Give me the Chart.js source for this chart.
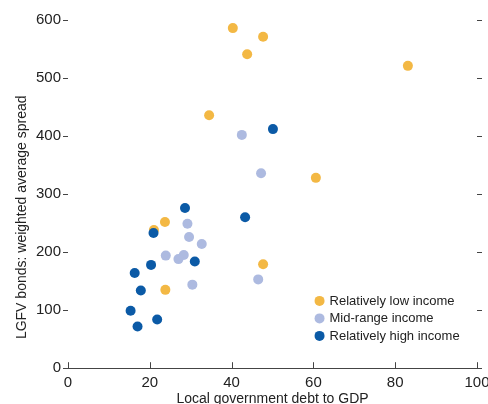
<!DOCTYPE html>
<html>
<head>
<meta charset="utf-8">
<script src="https://cdn.jsdelivr.net/npm/chart.js@4/dist/chart.umd.min.js"></script>
<style>
  html, body { margin: 0; padding: 0; background: #fff; overflow: hidden; }
  #wrap { width: 488px; height: 408px; position: relative; }
</style>
</head>
<body>
<div id="wrap"><canvas id="chart"></canvas></div>
<script>
// Series data: [debt to GDP, spread]
const lowIncome = [
    [40.3, 586], [47.7, 571], [43.8, 541], [83.1, 521], [34.5, 436],
    [60.6, 328], [23.7, 252], [21.0, 238], [47.7, 179], [23.8, 135],
];
const midIncome = [
    [42.5, 402], [47.2, 336], [29.2, 249], [29.6, 226], [32.7, 214],
    [23.9, 194], [28.3, 195], [27.0, 188], [30.4, 144], [46.5, 153],
];
const highIncome = [
    [50.1, 412], [43.3, 260], [28.6, 276], [20.9, 233], [20.3, 178],
    [16.3, 164], [17.8, 134], [31.0, 184], [15.3, 99], [17.0, 72], [21.8, 84],
];
const seriesNames = ['Relatively low income', 'Mid-range income', 'Relatively high income'];
const seriesColors = ['#F3B844', '#ADBAE0', '#0B5AA6'];
const xTicks = [0, 20, 40, 60, 80, 100];
const yTicks = [0, 100, 200, 300, 400, 500, 600];
const yTitle = 'LGFV bonds: weighted average spread';

const FONT = "'Liberation Sans Narrow', 'Arial Narrow', 'Liberation Sans', sans-serif";
const toPoints = (arr) => arr.map(([x, y]) => ({ x, y }));

// inward tick marks on the x axis
const xTickMarks = {
    id: 'xTickMarks',
    afterDraw(chart) {
        const { ctx, scales: { x }, chartArea } = chart;
        ctx.save();
        ctx.strokeStyle = '#444';
        ctx.lineWidth = 1;
        xTicks.forEach((v) => {
            const px = Math.round(x.getPixelForValue(v)) + 0.5;
            ctx.beginPath();
            ctx.moveTo(px, chartArea.bottom);
            ctx.lineTo(px, chartArea.bottom - 6);
            ctx.stroke();
        });
        ctx.restore();
    },
};

// y axis title, sitting a bit below the middle of the axis
const yTitlePlugin = {
    id: 'yTitlePlugin',
    afterDraw(chart) {
        const { ctx, scales: { y } } = chart;
        ctx.save();
        ctx.translate(22, y.getPixelForValue(260));
        ctx.rotate(-Math.PI / 2);
        ctx.font = '14px ' + FONT;
        ctx.fillStyle = '#222';
        ctx.textAlign = 'center';
        ctx.textBaseline = 'middle';
        ctx.fillText(yTitle, 0, 0);
        ctx.restore();
    },
};

// legend inside the plot, bottom right
const insideLegend = {
    id: 'insideLegend',
    afterDraw(chart) {
        const { ctx, scales: { x, y } } = chart;
        const left = x.getPixelForValue(61.5);
        const top = y.getPixelForValue(116);
        ctx.save();
        ctx.font = '13px ' + FONT;
        ctx.textBaseline = 'middle';
        seriesNames.forEach((name, i) => {
            const cy = top + i * 17.5;
            ctx.fillStyle = seriesColors[i];
            ctx.beginPath();
            ctx.arc(left, cy, 5, 0, Math.PI * 2);
            ctx.fill();
            ctx.fillStyle = '#222';
            ctx.fillText(name, left + 10, cy + 0.5);
        });
        ctx.restore();
    },
};

const ctx = document.getElementById('chart').getContext('2d');
new Chart(ctx, {
    type: 'scatter',
    data: {
        datasets: [
            { label: seriesNames[0], data: toPoints(lowIncome), backgroundColor: seriesColors[0], order: 2 },
            { label: seriesNames[1], data: toPoints(midIncome), backgroundColor: seriesColors[1], order: 1 },
            { label: seriesNames[2], data: toPoints(highIncome), backgroundColor: seriesColors[2], order: 0 },
        ],
    },
    options: {
        responsive: true,
        maintainAspectRatio: false,
        animation: false,
        layout: { padding: { top: 20, right: 0, left: 34, bottom: 0 } },
        elements: { point: { radius: 5, borderWidth: 0, hoverRadius: 5 } },
        plugins: { legend: { display: false }, tooltip: { enabled: false } },
        scales: {
            x: {
                type: 'linear',
                min: 0,
                max: 100,
                afterBuildTicks: (axis) => { axis.ticks = xTicks.map((v) => ({ value: v })); },
                grid: { display: false },
                border: { display: true, color: '#444', width: 1 },
                ticks: { color: '#222', font: { family: FONT, size: 15 }, padding: -2, maxRotation: 0 },
                title: { display: true, text: 'Local government debt to GDP', color: '#222', font: { family: FONT, size: 14 }, padding: { top: 1, bottom: 0 } },
            },
            y: {
                type: 'linear',
                position: 'left',
                min: 0,
                max: 600,
                afterBuildTicks: (axis) => { axis.ticks = yTicks.map((v) => ({ value: v })); },
                grid: { drawOnChartArea: false, drawTicks: true, tickLength: 5, color: '#444' },
                border: { display: false },
                ticks: { color: '#222', font: { family: FONT, size: 15 }, padding: 2 },
            },
            y2: {
                type: 'linear',
                position: 'right',
                min: 0,
                max: 600,
                afterBuildTicks: (axis) => { axis.ticks = yTicks.map((v) => ({ value: v })); },
                afterFit: (axis) => { axis.width = 11; },
                grid: { drawOnChartArea: false, drawTicks: true, tickLength: 5, color: '#444' },
                border: { display: false },
                ticks: { display: false },
            },
        },
    },
    plugins: [xTickMarks, yTitlePlugin, insideLegend],
});
</script>
</body>
</html>
